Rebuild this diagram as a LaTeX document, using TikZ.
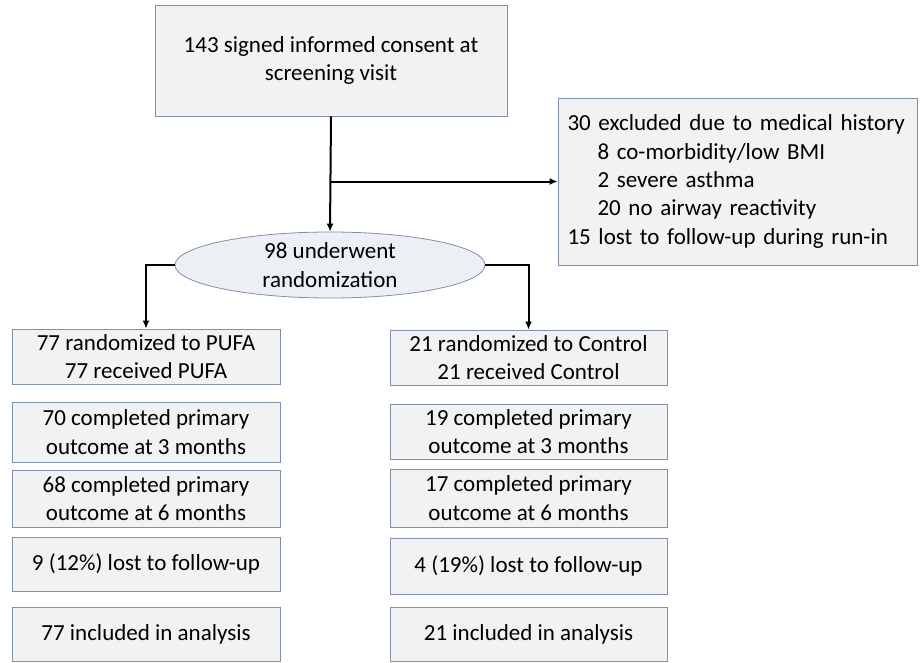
\documentclass[tikz,border=0pt]{standalone}
\usepackage{fontspec}
\setmainfont{Carlito}
\usetikzlibrary{shapes.geometric,arrows.meta}
\definecolor{boxfill}{RGB}{242,242,242}
\definecolor{boxline}{RGB}{128,144,166}
\definecolor{ovalfill}{RGB}{236,239,244}
\begin{document}
\begin{tikzpicture}[x=1pt, y=-1pt, >={Latex[length=8pt,width=7pt]},
    every node/.style={font=\fontsize{23}{28.3}\selectfont, inner sep=0pt},
    flowbox/.style={draw=boxline, fill=boxfill, line width=0.8pt, align=center},
    oval/.style={ellipse, draw=boxline, fill=ovalfill, line width=0.8pt, align=center},
    link/.style={->, line width=2pt}]
    \useasboundingbox (0,0) rectangle (921,662);

    % screening and exclusions
    \node [flowbox, minimum width=352pt, minimum height=111pt] (consent) at (331,60.5)
        {143 signed informed consent at\\screening visit};
    \node [flowbox, minimum width=359pt, minimum height=167pt, align=left,
           text width=340pt] (excluded) at (737.5,181.5)
        {30 excluded due to medical history\\
         \hspace*{30pt}8 co-morbidity/low BMI\\
         \hspace*{30pt}2 severe asthma\\
         \hspace*{30pt}20 no airway reactivity\\
         15 lost to follow-up during run-in};
    \node [oval, minimum width=310pt, minimum height=66pt] (random) at (330,265)
        {98 underwent\\randomization};

    % PUFA arm
    \node [flowbox, minimum width=268pt, minimum height=55pt] (pufa1) at (146,356.5)
        {77 randomized to PUFA\\77 received PUFA};
    \node [flowbox, minimum width=268pt, minimum height=60pt] (pufa2) at (146,432)
        {70 completed primary\\outcome at 3 months};
    \node [flowbox, minimum width=268pt, minimum height=57pt] (pufa3) at (146,498.5)
        {68 completed primary\\outcome at 6 months};
    \node [flowbox, minimum width=268pt, minimum height=54pt] (pufa4) at (146,564)
        {9 (12\%) lost to follow-up};
    \node [flowbox, minimum width=268pt, minimum height=54pt] (pufa5) at (146,634)
        {77 included in analysis};

    % control arm
    \node [flowbox, minimum width=277pt, minimum height=55pt] (ctrl1) at (528.5,357.5)
        {21 randomized to Control\\21 received Control};
    \node [flowbox, minimum width=277pt, minimum height=55pt] (ctrl2) at (528.5,431.5)
        {19 completed primary\\outcome at 3 months};
    \node [flowbox, minimum width=277pt, minimum height=58pt] (ctrl3) at (528.5,498)
        {17 completed primary\\outcome at 6 months};
    \node [flowbox, minimum width=277pt, minimum height=56pt] (ctrl4) at (528.5,566)
        {4 (19\%) lost to follow-up};
    \node [flowbox, minimum width=277pt, minimum height=54pt] (ctrl5) at (528.5,634)
        {21 included in analysis};

    % connectors
    \coordinate (split) at (consent.south |- excluded.west);
    \draw [link] (consent.south) -- (random.north);
    \draw [link] (split) -- (excluded.west);
    \draw [link] (random.west) -| (pufa1.north);
    \draw [link] (random.east) -| (ctrl1.north);
\end{tikzpicture}
\end{document}
